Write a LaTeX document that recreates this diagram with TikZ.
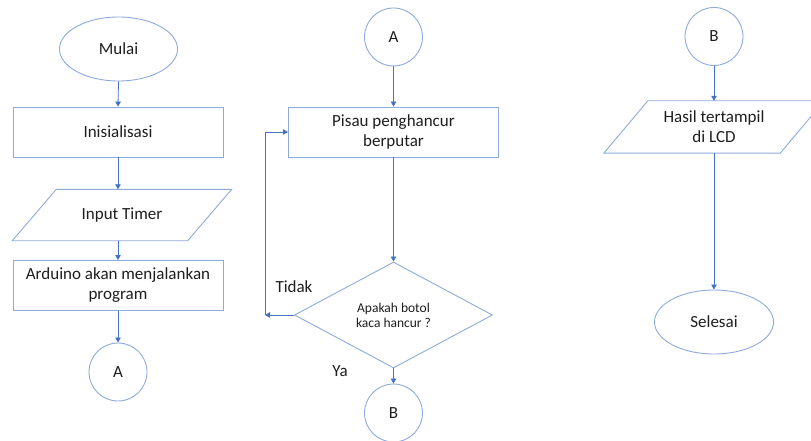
\documentclass[tikz,border=0pt]{standalone}
\usepackage{fontspec}
\setmainfont{Carlito}
\usetikzlibrary{shapes.geometric,arrows.meta}
\definecolor{shapeblue}{RGB}{143,170,220}
\definecolor{arrowblue}{RGB}{68,114,196}
\definecolor{txt}{RGB}{30,30,30}
\begin{document}
\begin{tikzpicture}[x=1pt,y=-1pt,
  every node/.style={text=txt,font=\fontsize{17}{20}\selectfont},
  base/.style={draw=shapeblue,line width=0.9pt,fill=white},
  procbox/.style={base,rectangle,minimum width=210pt,minimum height=50pt,align=center,inner sep=2pt},
  termbox/.style={base,ellipse,minimum width=118pt,minimum height=64pt,inner sep=0pt},
  conn/.style={base,circle,minimum size=58pt,inner sep=0pt},
  iobox/.style={rectangle,minimum height=51pt,align=center,inner sep=0pt},
  decbox/.style={base,diamond,minimum width=198pt,minimum height=106pt,inner sep=0pt,align=center,font=\fontsize{13.5}{15}\selectfont},
  arr/.style={draw=arrowblue,line width=0.8pt,-{Triangle[width=5.5pt,length=5pt]}},
  lbl/.style={inner sep=0pt}
]
\useasboundingbox (0,0) rectangle (811,441);
\clip (0,0) rectangle (811,441);
\fill[white] (0,0) rectangle (811,441);

% left column
\node[termbox] (mulai) at (118.5,49) {Mulai};
\node[procbox] (init) at (118,132) {Inisialisasi};
\node[iobox,minimum width=175pt] (inp) at (122,215) {};
\draw[base] ([xshift=-22pt]inp.south west) -- ([xshift=-22pt]inp.south east) -- ([xshift=22pt]inp.north east) -- ([xshift=22pt]inp.north west) -- cycle;
\node at (inp.center) {Input Timer};
\node[procbox] (ard) at (118,285.5) {Arduino akan menjalankan\\program};
\node[conn] (ca1) at (118,372) {A};

\draw[arr] (mulai.south) -- (init.north);
\draw[arr] (init.south) -- (init.south |- inp.north);
\draw[arr] (init.south |- inp.south) -- (ard.north);
\draw[arr] (ard.south) -- (ca1.north);

% middle column
\node[conn] (ca2) at (393.5,37) {A};
\node[procbox] (pisau) at (393.5,132) {Pisau penghancur\\berputar};
\node[decbox] (dec) at (393.5,315) {Apakah botol\\kaca hancur ?};
\node[conn] (cb1) at (393.5,413) {B};
\coordinate (lp) at (265,315);
\node[lbl] (tidak) at (294,287) {Tidak};
\node[lbl] (ya) at (340,371) {Ya};

\draw[arr] (ca2.south) -- (pisau.north);
\draw[arr] (pisau.south) -- (dec.north);
\draw[arr] (dec.west) -- (lp);
\draw[arr] (lp) |- (pisau.west);
\draw[arr] (dec.south) -- (cb1.north);

% right column
\node[conn] (cb2) at (714,36.5) {B};
\node[iobox,minimum width=176pt,minimum height=52pt] (hasil) at (714,127) {};
\draw[base] ([xshift=-22pt]hasil.south west) -- ([xshift=-22pt]hasil.south east) -- ([xshift=22pt]hasil.north east) -- ([xshift=22pt]hasil.north west) -- cycle;
\node[align=center] at (hasil.center) {Hasil tertampil\\di LCD};
\node[termbox,minimum width=119pt] (selesai) at (714,322) {Selesai};

\draw[arr] (cb2.south) -- (hasil.north);
\draw[arr] (hasil.south) -- (selesai.north);
\end{tikzpicture}
\end{document}
